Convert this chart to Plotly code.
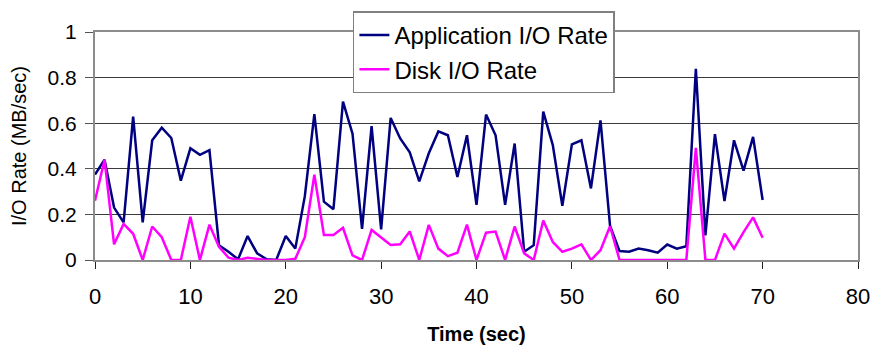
import plotly.graph_objects as go

# Time axis (seconds)
time_sec = list(range(0, 71))

# Application-level I/O rate (MB/sec)
app_io_rate = [
    0.375, 0.44, 0.23, 0.165, 0.629, 0.165, 0.525, 0.58, 0.535, 0.348,
    0.49, 0.461, 0.482, 0.065, 0.036, 0.003, 0.105, 0.029, 0.003, 0.0,
    0.105, 0.05, 0.28, 0.64, 0.256, 0.223, 0.695, 0.554, 0.137, 0.587,
    0.134, 0.623, 0.533, 0.472, 0.345, 0.468, 0.564, 0.547, 0.364, 0.547,
    0.242, 0.638, 0.547, 0.242, 0.511, 0.036, 0.065, 0.651, 0.504, 0.238,
    0.507, 0.525, 0.314, 0.612, 0.151, 0.039, 0.036, 0.05, 0.043, 0.032,
    0.068, 0.05, 0.06, 0.839, 0.108, 0.552, 0.258, 0.525, 0.392, 0.54,
    0.263,
]

# Disk-level I/O rate (MB/sec)
disk_io_rate = [
    0.26, 0.44, 0.069, 0.158, 0.115, 0.0, 0.147, 0.10, 0.0, 0.0,
    0.19, 0.0, 0.155, 0.058, 0.01, 0.0, 0.01, 0.005, 0.0, 0.0,
    0.0, 0.005, 0.10, 0.374, 0.11, 0.11, 0.141, 0.02, 0.0, 0.132,
    0.10, 0.066, 0.069, 0.125, 0.0, 0.154, 0.05, 0.017, 0.032, 0.155,
    0.0, 0.12, 0.125, 0.0, 0.147, 0.029, 0.0, 0.173, 0.079, 0.036,
    0.05, 0.069, 0.0, 0.043, 0.148, 0.0, 0.0, 0.0, 0.0, 0.0,
    0.0, 0.0, 0.0, 0.492, 0.0, 0.0, 0.116, 0.05, 0.122, 0.187,
    0.098,
]

x_ticks = [0, 10, 20, 30, 40, 50, 60, 70, 80]
y_ticks = [0, 0.2, 0.4, 0.6, 0.8, 1]
y_tick_labels = ["0", "0.2", "0.4", "0.6", "0.8", "1"]

FONT = "Liberation Sans, Arial, sans-serif"

fig = go.Figure()
fig.add_trace(go.Scatter(
    x=time_sec, y=app_io_rate, mode="lines",
    name="Application I/O Rate",
    line=dict(color="#000080", width=2.5),
))
fig.add_trace(go.Scatter(
    x=time_sec, y=disk_io_rate, mode="lines",
    name="Disk I/O Rate",
    line=dict(color="#FF00FF", width=2.5),
))

fig.update_layout(
    width=874, height=345,
    margin=dict(l=95, r=16, t=28, b=85),
    paper_bgcolor="white",
    plot_bgcolor="white",
    font=dict(family=FONT, color="black", size=20),
    showlegend=True,
    legend=dict(
        x=0.338, y=1.09, xanchor="left", yanchor="top",
        bgcolor="white", bordercolor="#808080", borderwidth=1.5,
        font=dict(family=FONT, size=24, color="black"),
        tracegroupgap=0, itemwidth=30,
    ),
    xaxis=dict(
        range=[0, 80], tickvals=x_ticks,
        showgrid=False, zeroline=False, automargin=False,
        showline=True, linecolor="#8c8c8c", linewidth=2, mirror=True,
        ticks="outside", ticklen=7, tickcolor="#222", tickwidth=1,
        ticklabelstandoff=9,
        tickfont=dict(family=FONT, size=22),
        title=dict(text="<b>Time (sec)</b>", font=dict(family=FONT, size=20), standoff=21),
    ),
    yaxis=dict(
        range=[0, 1], tickvals=y_ticks, ticktext=y_tick_labels,
        showgrid=True, gridcolor="#3a3a3a", gridwidth=1, zeroline=False, automargin=False,
        showline=True, linecolor="#8c8c8c", linewidth=2, mirror=True,
        ticks="outside", ticklen=8, tickcolor="#555", tickwidth=1,
        ticklabelstandoff=4,
        tickfont=dict(family=FONT, size=21),
        title=dict(text="I/O Rate (MB/sec)", font=dict(family=FONT, size=20), standoff=16),
    ),
)

fig.write_html("out.html")
